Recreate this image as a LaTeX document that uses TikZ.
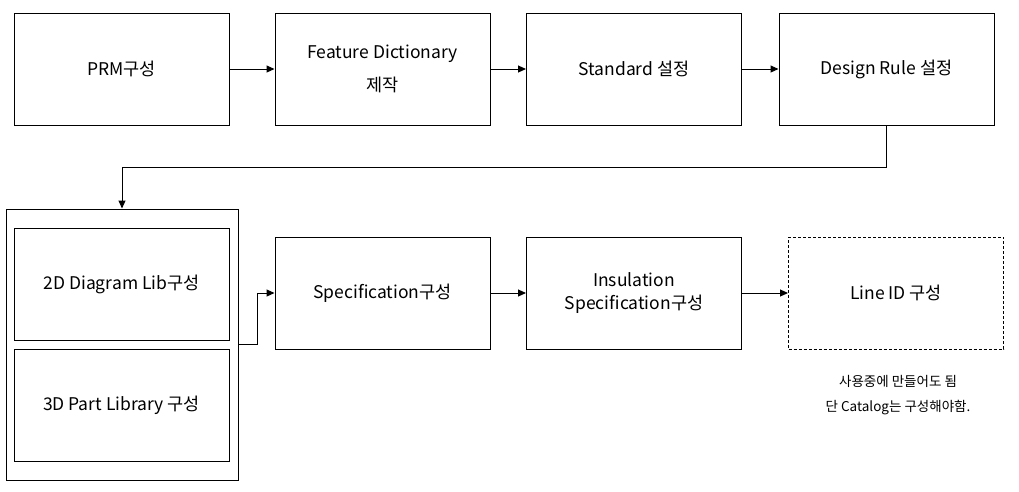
\documentclass[tikz,border=0pt]{standalone}
\usepackage{fontspec}
\setmainfont{Noto Sans CJK KR}
\usetikzlibrary{arrows.meta}

\begin{document}
\begin{tikzpicture}[x=1pt,y=-1pt]
\tikzset{stagebox/.style = {shape=rectangle,draw,line width=1pt,minimum width=215pt,minimum height=112pt,align=center,font=\fontsize{17.5}{23}\selectfont}}
\tikzset{optbox/.style = {stagebox,dash pattern=on 3pt off 2pt}}
\tikzset{edge/.style = {->,> = {Triangle[length=8pt,width=7pt]},line width=1pt}}
\useasboundingbox (0,0) rectangle (1019,491);

\node[stagebox] (prm) at (121.5,69) {PRM구성};
\node[stagebox] (feat) at (382.5,69) {Feature Dictionary\\[10pt]제작};
\node[stagebox] (std) at (634,69) {Standard 설정};
\node[stagebox] (rule) at (886.5,69) {Design Rule 설정};

\node[shape=rectangle,draw,line width=1pt,minimum width=232pt,minimum height=271pt] (lib) at (122,344.5) {};
\node[stagebox] (diag) at (121.5,284) {2D Diagram Lib구성};
\node[stagebox] (part) at (121.5,405) {3D Part Library 구성};

\node[stagebox] (spec) at (382.5,293) {Specification구성};
\node[stagebox] (insu) at (634,293) {Insulation\\Specification구성};
\node[optbox] (line) at (896,293) {Line ID 구성};
\node[align=center,font=\fontsize{13.5}{25}\selectfont] (note) at (898,395) {사용중에 만들어도 됨\\단 Catalog는 구성해야함.};

%edges
\draw[edge] (prm) to (feat);
\draw[edge] (feat) to (std);
\draw[edge] (std) to (rule);
\draw[edge] (rule.south) -- ++(0,42) -| (lib.north);
\draw[edge] (lib.east) -- ++(19,0) |- (spec.west);
\draw[edge] (spec) to (insu);
\draw[edge] (insu) to (line);
\end{tikzpicture}
\end{document}
